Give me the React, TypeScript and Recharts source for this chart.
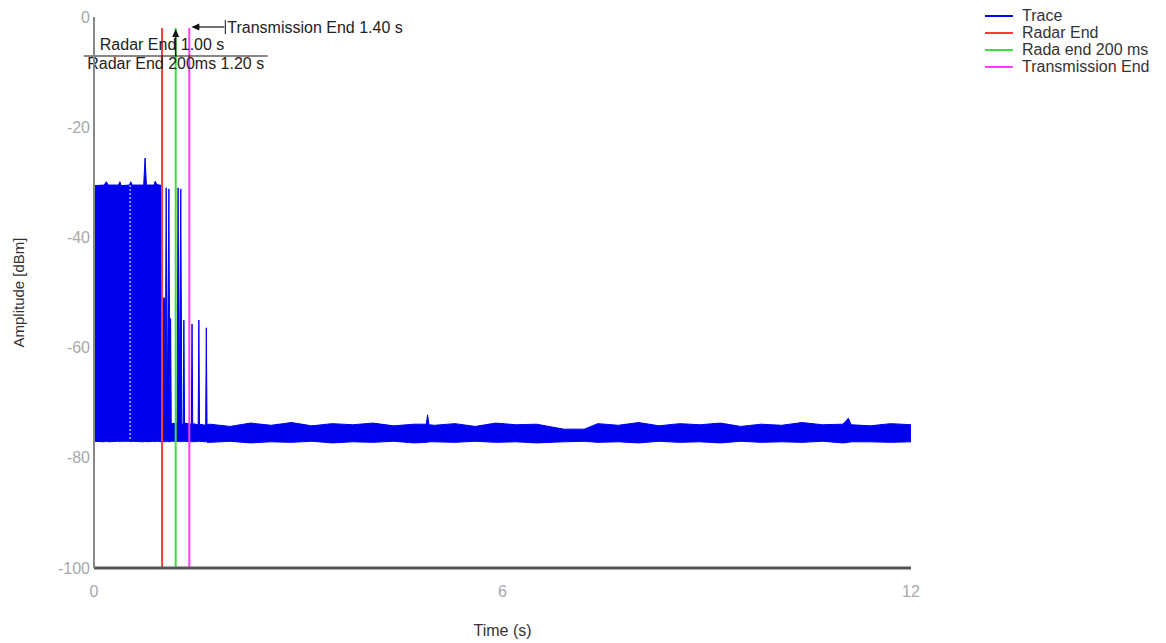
import {
  ComposedChart,
  Area,
  Line,
  XAxis,
  YAxis,
  Legend,
  ReferenceLine,
} from "recharts";

// trace envelope (min / max per time slot)
const traceTime = [
  0.0, 0.15, 0.18, 0.21, 0.36, 0.38, 0.4, 0.52, 0.54, 0.56, 0.73, 0.75, 0.77,
  0.88, 0.9, 0.92, 1.0, 1.005, 1.035, 1.045, 1.06, 1.075, 1.1, 1.115, 1.125,
  1.135, 1.22, 1.235, 1.25, 1.275, 1.29, 1.31, 1.32, 1.33, 1.43, 1.44, 1.45,
  1.53, 1.54, 1.55, 1.64, 1.65, 1.66, 1.7, 2.0, 2.3, 2.6, 2.9, 3.2, 3.5, 3.8,
  4.1, 4.4, 4.7, 4.88, 4.9, 4.92, 5.0, 5.3, 5.6, 5.9, 6.2, 6.5, 6.9, 7.2, 7.4,
  7.7, 8.0, 8.3, 8.6, 8.9, 9.2, 9.5, 9.8, 10.1, 10.4, 10.7, 11.0, 11.08, 11.12,
  11.4, 11.7, 12.0,
];
const traceHigh = [
  -30.6, -30.5, -29.9, -30.5, -30.5, -29.9, -30.6, -30.5, -29.9, -30.5, -30.5,
  -25.6, -30.5, -30.5, -29.8, -30.4, -30.6, -51.0, -51.0, -73.8, -31.0, -73.8,
  -31.2, -73.9, -54.7, -73.8, -73.7, -31.0, -73.8, -31.2, -73.9, -73.8, -55.0,
  -73.7, -73.9, -55.7, -73.8, -74.0, -55.0, -73.9, -74.1, -56.4, -74.0, -73.9,
  -74.3, -73.7, -74.1, -73.6, -74.2, -73.8, -74.0, -73.7, -74.2, -73.9, -73.9,
  -72.2, -74.0, -74.1, -73.8, -74.3, -73.7, -74.0, -73.9, -74.8, -74.8, -73.8,
  -74.1, -73.6, -74.2, -73.8, -74.0, -73.7, -74.3, -73.9, -74.1, -73.6, -74.0,
  -73.9, -72.8, -74.0, -74.2, -73.8, -74.0,
];
const traceLow = [
  -77.0, -77.1, -77.0, -77.1, -77.0, -77.1, -77.0, -77.0, -77.1, -77.0, -77.1,
  -77.0, -77.1, -77.0, -77.1, -77.0, -77.1, -77.0, -77.1, -77.0, -77.1, -77.0,
  -77.1, -77.0, -77.1, -77.0, -77.0, -77.1, -77.0, -77.1, -77.0, -77.0, -77.1,
  -77.0, -77.1, -77.0, -77.1, -77.0, -77.1, -77.0, -77.1, -77.0, -77.2, -77.2,
  -77.0, -77.3, -77.1, -77.2, -77.0, -77.3, -77.1, -77.2, -77.0, -77.3, -77.2,
  -77.2, -77.1, -77.1, -77.2, -77.0, -77.2, -77.1, -77.3, -77.1, -77.0, -77.2,
  -77.1, -77.3, -77.0, -77.2, -77.1, -77.3, -77.0, -77.2, -77.1, -77.2, -77.0,
  -77.3, -77.2, -77.1, -77.1, -77.2, -77.1,
];

// gap in the trace (white dotted column)
const gapTimes = [0.53];

// event markers
const markerTimes = [1.0, 1.2, 1.4];
const markerNames = ["Radar End", "Rada end 200 ms", "Transmission End"];
const markerColors = ["#ff3b3b", "#3be03b", "#ff3bff"];
const markerTop = -2;
const annotationTexts = [
  "Radar End 1.00 s",
  "Radar End 200ms 1.20 s",
  "Transmission End 1.40 s",
];
const legendOrder = ["Trace", ...markerNames];

const yTicks = [0, -20, -40, -60, -80, -100];
const xTicks = [0, 6, 12];

const traceData = traceTime.map((t, i) => ({
  t,
  band: [traceLow[i], traceHigh[i]],
}));

const markerData = markerTimes.map((t) => [
  { t, v: markerTop },
  { t, v: -100 },
]);

const TRACE = "#0000f0";
const FONT = "'Liberation Sans', Arial, sans-serif";

function Annotation(props: any) {
  const { viewBox, kind, text } = props;
  if (!viewBox) return null;
  const x = viewBox.x;
  const top = viewBox.y;
  const ink = "#111";
  if (kind === 0) {
    return (
      <text
        x={x}
        y={top + 27}
        textAnchor="middle"
        dominantBaseline="central"
        fontSize={16}
        fill="#222"
      >
        {text}
      </text>
    );
  }
  if (kind === 1) {
    return (
      <g>
        <line x1={x - 92} y1={top + 39} x2={x + 92} y2={top + 39} stroke={ink} strokeWidth={1.2} />
        <line x1={x} y1={top + 39} x2={x} y2={top + 19} stroke={ink} strokeWidth={1.2} />
        <polygon
          points={`${x},${top + 12} ${x - 3.5},${top + 20} ${x + 3.5},${top + 20}`}
          fill={ink}
        />
        <text
          x={x}
          y={top + 46}
          textAnchor="middle"
          dominantBaseline="central"
          fontSize={16}
          fill="#222"
        >
          {text}
        </text>
      </g>
    );
  }
  return (
    <g>
      <line x1={x + 9} y1={top + 10} x2={x + 35} y2={top + 10} stroke={ink} strokeWidth={1.2} />
      <polygon
        points={`${x + 2},${top + 10} ${x + 10},${top + 6.5} ${x + 10},${top + 13.5}`}
        fill={ink}
      />
      <line x1={x + 36} y1={top + 3} x2={x + 36} y2={top + 17} stroke={ink} strokeWidth={1} />
      <text
        x={x + 38}
        y={top + 10}
        dominantBaseline="central"
        fontSize={16}
        fill="#222"
      >
        {text}
      </text>
    </g>
  );
}

function LegendBox(props: any) {
  const items = [...(props.payload || [])].sort(
    (a: any, b: any) => legendOrder.indexOf(a.value) - legendOrder.indexOf(b.value)
  );
  return (
    <div style={{ fontFamily: FONT, fontSize: 16, color: "#333" }}>
      {items.map((it: any) => (
        <div
          key={it.value}
          style={{ display: "flex", alignItems: "center", height: 17 }}
        >
          <span
            style={{
              display: "inline-block",
              width: 28,
              height: 2,
              background: it.color,
              marginRight: 9,
            }}
          />
          <span>{it.value}</span>
        </div>
      ))}
    </div>
  );
}

function YTitle(props: any) {
  const vb = props.viewBox || { y: 17, height: 551 };
  const cy = vb.y + vb.height / 2;
  return (
    <text
      x={18}
      y={cy}
      transform={`rotate(-90 18 ${cy})`}
      textAnchor="middle"
      dominantBaseline="central"
      fontSize={15}
      fill="#333"
    >
      Amplitude [dBm]
    </text>
  );
}

function XTitle(props: any) {
  const vb = props.viewBox || { x: 94, width: 817, y: 568 };
  return (
    <text
      x={vb.x + vb.width / 2}
      y={630}
      textAnchor="middle"
      dominantBaseline="central"
      fontSize={16}
      fill="#333"
    >
      Time (s)
    </text>
  );
}

export default function App() {
  return (
    <div style={{ width: 1166, height: 643, background: "#fff", fontFamily: FONT }}>
      <style>{"body{margin:0;background:#fff}"}</style>
      <ComposedChart
        width={1166}
        height={643}
        data={traceData}
        margin={{ top: 17, right: 255, bottom: 0, left: 0 }}
      >
        <XAxis
          dataKey="t"
          type="number"
          domain={[0, 12]}
          ticks={xTicks}
          height={75}
          tickLine={false}
          tickSize={0}
          tickMargin={18}
          tick={{ fontSize: 16, fill: "#a8a8a8" }}
          axisLine={{ stroke: "#555", strokeWidth: 3 }}
          label={<XTitle />}
        />
        <YAxis
          type="number"
          domain={[-100, 0]}
          ticks={yTicks}
          width={94}
          tickLine={false}
          tickSize={0}
          tickMargin={4}
          tick={{ fontSize: 16, fill: "#a8a8a8" }}
          axisLine={{ stroke: "#888", strokeWidth: 2 }}
          label={<YTitle />}
        />
        <Area
          name="Trace"
          dataKey="band"
          type="linear"
          stroke={TRACE}
          strokeWidth={1}
          fill={TRACE}
          fillOpacity={1}
          dot={false}
          activeDot={false}
          isAnimationActive={false}
        />
        {gapTimes.map((g) => (
          <ReferenceLine
            key={g}
            segment={[
              { x: g, y: -30.5 },
              { x: g, y: -76.8 },
            ]}
            stroke="#ffffff"
            strokeWidth={1}
            strokeDasharray="2 2"
          />
        ))}
        {markerData.map((d, i) => (
          <Line
            key={markerNames[i]}
            name={markerNames[i]}
            data={d}
            dataKey="v"
            type="linear"
            stroke={markerColors[i]}
            strokeWidth={2}
            dot={false}
            activeDot={false}
            isAnimationActive={false}
          />
        ))}
        {markerTimes.map((t, i) => (
          <ReferenceLine
            key={"a" + t}
            x={t}
            stroke="none"
            label={<Annotation kind={i} text={annotationTexts[i]} />}
          />
        ))}
        <Legend
          layout="horizontal"
          verticalAlign="middle"
          align="center"
          content={<LegendBox />}
          wrapperStyle={{ top: 7, left: 985, width: 180, height: 72 }}
        />
      </ComposedChart>
    </div>
  );
}
